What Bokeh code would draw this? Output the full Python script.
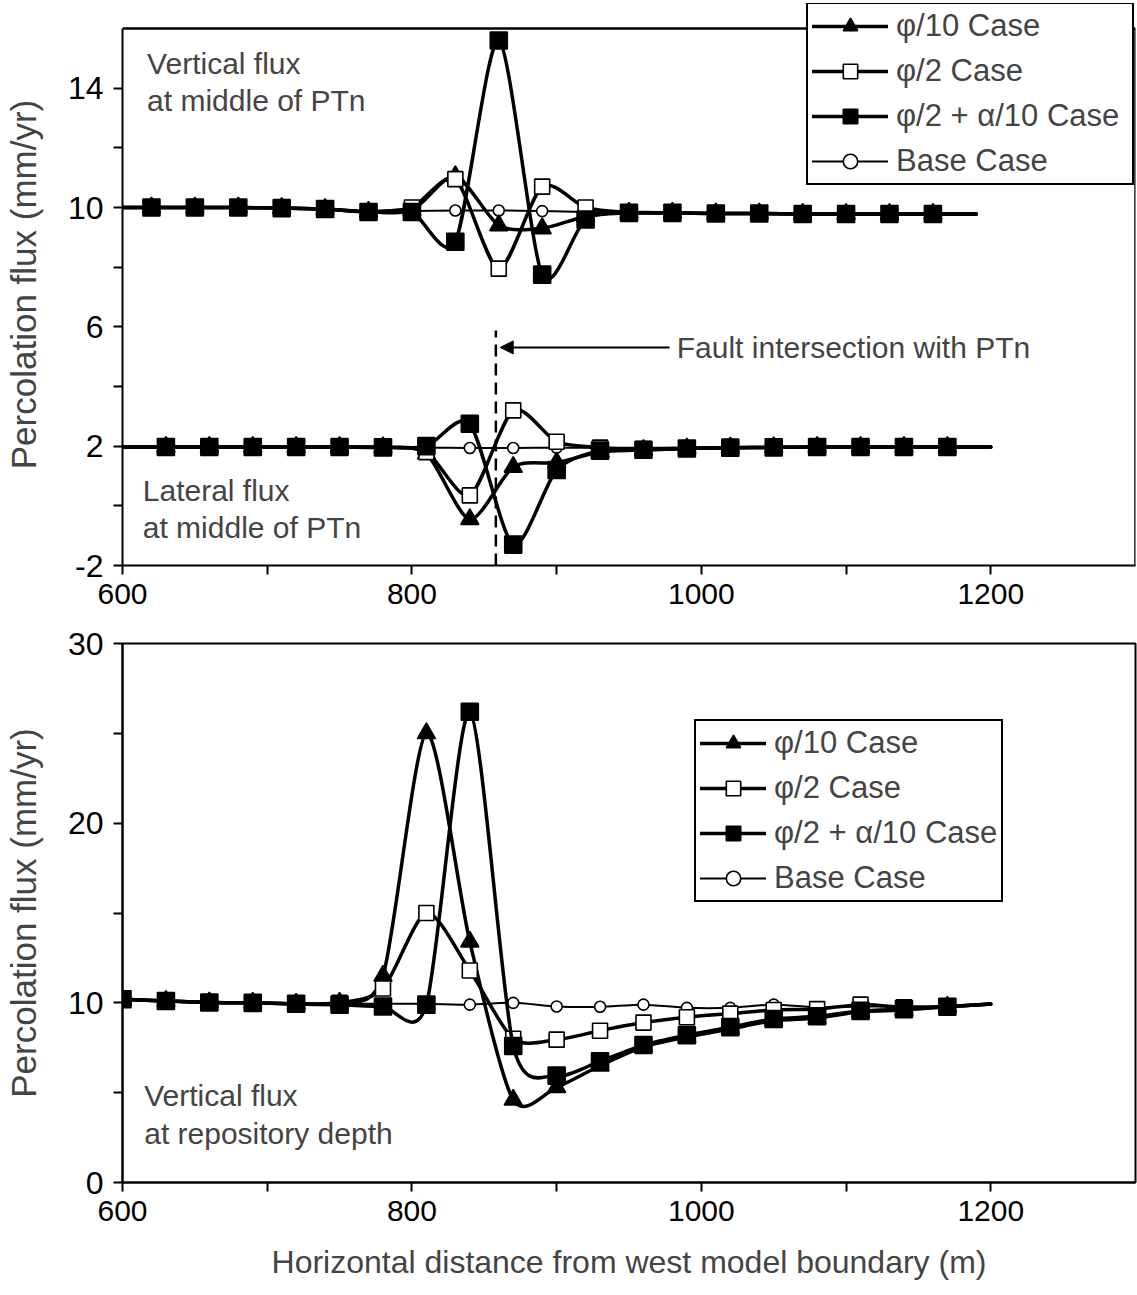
import numpy as np
from bokeh.plotting import figure
from bokeh.layouts import column
from bokeh.models import (Range1d, FixedTicker, Legend, LegendItem, Label, Arrow,
                          NormalHead, ColumnDataSource)
from bokeh.embed import file_html
from bokeh.resources import INLINE

FONT = "Liberation Sans"

# ---------------- data: top panel (middle of PTn) ----------------
x_vert = [600, 620, 650, 680, 710, 740, 770, 800, 830, 860, 890, 920, 950, 980, 1010,
          1040, 1070, 1100, 1130, 1160, 1190]
vert_phi10 = [10.0, 10.0, 10.0, 10.0, 9.98, 9.95, 9.86, 9.9, 11.05, 9.4, 9.3, 9.7, 9.82,
              9.82, 9.8, 9.8, 9.78, 9.78, 9.78, 9.78, 9.78]
vert_phi2 = [10.0, 10.0, 10.0, 10.0, 9.98, 9.95, 9.86, 10.0, 10.95, 7.95, 10.7, 10.0, 9.83,
             9.82, 9.8, 9.8, 9.78, 9.78, 9.78, 9.78, 9.78]
vert_phi2_alpha10 = [10.0, 10.0, 10.0, 10.0, 9.98, 9.95, 9.85, 9.85, 8.85, 15.6, 7.75, 9.6,
                     9.82, 9.82, 9.8, 9.8, 9.78, 9.78, 9.78, 9.78, 9.78]
vert_base = [10.0, 10.0, 10.0, 10.0, 9.98, 9.95, 9.86, 9.88, 9.9, 9.9, 9.88, 9.85, 9.82,
             9.82, 9.8, 9.8, 9.78, 9.78, 9.78, 9.78, 9.78]

x_lat = [600, 630, 660, 690, 720, 750, 780, 810, 840, 870, 900, 930, 960, 990, 1020,
         1050, 1080, 1110, 1140, 1170, 1200]
lat_phi10 = [1.97, 1.97, 1.97, 1.97, 1.97, 1.97, 1.96, 1.75, -0.45, 1.3, 1.45, 1.8, 1.87,
             1.92, 1.95, 1.96, 1.97, 1.97, 1.97, 1.97, 1.97]
lat_phi2 = [1.97, 1.97, 1.97, 1.97, 1.97, 1.97, 1.96, 1.8, 0.35, 3.2, 2.15, 1.95, 1.9,
            1.93, 1.95, 1.96, 1.97, 1.97, 1.97, 1.97, 1.97]
lat_phi2_alpha10 = [1.97, 1.97, 1.97, 1.97, 1.97, 1.97, 1.96, 2.0, 2.75, -1.3, 1.2, 1.85,
                    1.88, 1.92, 1.95, 1.96, 1.97, 1.97, 1.97, 1.97, 1.97]
lat_base = [1.97, 1.97, 1.97, 1.97, 1.97, 1.97, 1.96, 1.95, 1.94, 1.94, 1.95, 1.95, 1.95,
            1.95, 1.96, 1.96, 1.97, 1.97, 1.97, 1.97, 1.97]

# ---------------- data: bottom panel (repository depth) ----------------
x_rep = [600, 630, 660, 690, 720, 750, 780, 810, 840, 870, 900, 930, 960, 990, 1020,
         1050, 1080, 1110, 1140, 1170, 1200]
rep_phi10 = [10.2, 10.1, 10.02, 10.0, 9.95, 10.0, 11.5, 25.0, 13.4, 4.6, 5.3, 6.5, 7.55,
             8.1, 8.55, 9.0, 9.15, 9.5, 9.6, 9.78, 9.93]
rep_phi2 = [10.2, 10.1, 10.02, 10.0, 9.95, 10.0, 10.8, 15.0, 11.8, 8.0, 7.95, 8.45, 8.9,
            9.2, 9.4, 9.6, 9.65, 9.9, 9.75, 9.8, 9.93]
rep_phi2_alpha10 = [10.2, 10.1, 10.02, 10.0, 9.95, 9.9, 9.8, 9.9, 26.2, 7.6, 5.95, 6.75,
                    7.65, 8.2, 8.65, 9.1, 9.25, 9.55, 9.65, 9.78, 9.93]
rep_base = [10.2, 10.1, 10.02, 10.0, 9.95, 9.95, 9.95, 9.95, 9.9, 10.0, 9.8, 9.78, 9.9,
            9.72, 9.72, 9.9, 9.75, 9.8, 9.8, 9.8, 9.93]

case_labels = ["\u03c6/10 Case", "\u03c6/2 Case", "\u03c6/2 + \u03b1/10 Case", "Base Case"]
fault_x = 858

STYLES = [
    dict(marker="triangle", size=18, fill="black", lw=3.5),
    dict(marker="square", size=15, fill="white", lw=3.5),
    dict(marker="square", size=17, fill="black", lw=3.5),
    dict(marker="circle", size=11, fill="white", lw=2),
]
DRAW_ORDER = [3, 0, 1, 2]   # base case underneath, filled squares on top


def bez_source(x, y, t=0.13):
    x = np.asarray(x, float)
    y = np.asarray(y, float)
    n = len(x)
    xp = np.concatenate([[x[0]], x, [x[-1]]])
    yp = np.concatenate([[y[0]], y, [y[-1]]])
    return ColumnDataSource(dict(
        x0=x[:-1], y0=y[:-1], x1=x[1:], y1=y[1:],
        cx0=x[:-1] + (xp[2:n + 1] - xp[0:n - 1]) * t,
        cy0=y[:-1] + (yp[2:n + 1] - yp[0:n - 1]) * t,
        cx1=x[1:] - (xp[3:n + 2] - xp[1:n]) * t,
        cy1=y[1:] - (yp[3:n + 2] - yp[1:n]) * t,
    ))


def draw_series(p, x, y, st, msl):
    b = p.bezier(x0="x0", y0="y0", x1="x1", y1="y1", cx0="cx0", cy0="cy0",
                 cx1="cx1", cy1="cy1", source=bez_source(x, y), line_color="black",
                 line_width=st["lw"], line_cap="round")
    s = p.scatter(x[msl], y[msl], marker=st["marker"], size=st["size"],
                  fill_color=st["fill"], line_color="black", line_width=1.6)
    return [b, s]


def make_fig(h, yr, bt, bb, bl):
    p = figure(width=1137, height=h, x_range=Range1d(600, 1300), y_range=Range1d(*yr),
               output_backend="svg", toolbar_location=None,
               min_border_left=bl, min_border_right=2, min_border_top=bt,
               min_border_bottom=bb)
    p.grid.visible = False
    p.outline_line_color = "black"
    p.outline_line_width = 2
    p.background_fill_color = "white"
    p.border_fill_color = "white"
    for ax in (p.xaxis[0], p.yaxis[0]):
        ax.axis_line_width = 2
        ax.major_tick_line_width = 2
        ax.minor_tick_line_width = 2
        ax.major_tick_out = 9
        ax.major_tick_in = 0
        ax.minor_tick_out = 9
        ax.minor_tick_in = 0
        ax.major_label_text_font = FONT
        ax.axis_label_text_font = FONT
        ax.axis_label_text_font_style = "normal"
        ax.major_label_text_color = "black"
    p.xaxis.major_label_text_font_size = "30px"
    p.yaxis.major_label_text_font_size = "32px"
    p.xaxis.ticker = FixedTicker(ticks=[600, 800, 1000, 1200], minor_ticks=[700, 900, 1100])
    p.xaxis.major_label_standoff = 9
    p.yaxis.major_label_standoff = 10
    p.yaxis.axis_label = "Percolation flux (mm/yr)"
    p.yaxis.axis_label_text_font_size = "35px"
    p.yaxis.axis_label_standoff = 22
    return p


def make_legend(items, loc, gw, lw):
    return Legend(items=items, location=loc, label_text_font=FONT,
                  label_text_font_size="31px", label_height=36, glyph_height=36,
                  glyph_width=gw, label_width=lw, spacing=9, padding=4, margin=0,
                  label_standoff=8, border_line_color="black", border_line_width=2,
                  border_line_alpha=1.0, background_fill_color="white",
                  background_fill_alpha=1.0)


# ---------------- top figure ----------------
# frame starts near the page top so the legend box can rise above the y=16 border
p1 = make_fig(620, (-2, 16 + 25 / 29.83), 3, 55, 122)
p1.outline_line_color = None
p1.yaxis.bounds = (-2, 16)
p1.yaxis.ticker = FixedTicker(ticks=[-2, 2, 6, 10, 14], minor_ticks=[0, 4, 8, 12])
p1.yaxis.major_label_overrides = {-2: "-2"}
# frame border at y = 16 and right side
p1.segment(x0=[600, 1300], y0=[16, -2], x1=[1300, 1300], y1=[16, 16],
           line_color="black", line_width=2.5)

vert_series = [vert_phi10, vert_phi2, vert_phi2_alpha10, vert_base]
lat_series = [lat_phi10, lat_phi2, lat_phi2_alpha10, lat_base]
xv = np.array(x_vert, float)
xl = np.array(x_lat, float)
rend1 = {}
for i in DRAW_ORDER:
    rend1[i] = draw_series(p1, xv, np.array(vert_series[i]), STYLES[i], slice(1, -1))
    draw_series(p1, xl, np.array(lat_series[i]), STYLES[i], slice(1, -1))
items1 = [LegendItem(label=case_labels[i], renderers=rend1[i]) for i in range(4)]

p1.segment(x0=[fault_x], y0=[-2], x1=[fault_x], y1=[5.88], line_color="black",
           line_width=2.5, line_dash="12 7")
p1.add_layout(Arrow(end=NormalHead(size=13, fill_color="black", line_color="black"),
                    x_start=978, y_start=5.31, x_end=861, y_end=5.31,
                    line_color="black", line_width=2))
p1.add_layout(Label(x=983, y=5.31, text="Fault intersection with PTn", text_font=FONT,
                    text_font_size="30px", text_baseline="middle"))
for tx, ty, tt in [(617, 14.83, "Vertical flux"), (617, 13.59, "at middle of PTn"),
                   (614, 0.51, "Lateral flux"), (614, -0.73, "at middle of PTn")]:
    p1.add_layout(Label(x=tx, y=ty, text=tt, text_font=FONT, text_font_size="30px",
                        text_baseline="middle"))
p1.add_layout(make_legend(items1, (684, 380), 76, 232))

# ---------------- bottom figure ----------------
p2 = make_fig(675, (0, 30), 23, 113, 118)
p2.yaxis.ticker = FixedTicker(ticks=[0, 10, 20, 30], minor_ticks=[5, 15, 25])
p2.xaxis.axis_label = "Horizontal distance from west model boundary (m)"
p2.xaxis.axis_label_text_font_size = "32px"
p2.xaxis.axis_label_standoff = 20

rep_series = [rep_phi10, rep_phi2, rep_phi2_alpha10, rep_base]
xr_ = np.array(x_rep, float)
rend2 = {}
for i in DRAW_ORDER:
    rend2[i] = draw_series(p2, xr_, np.array(rep_series[i]), STYLES[i], slice(0, -1))
items2 = [LegendItem(label=case_labels[i], renderers=rend2[i]) for i in range(4)]

for tx, ty, tt in [(615, 4.83, "Vertical flux"), (615, 2.7, "at repository depth")]:
    p2.add_layout(Label(x=tx, y=ty, text=tt, text_font=FONT, text_font_size="30px",
                        text_baseline="middle"))
p2.add_layout(make_legend(items2, (572, 280), 66, 209))

layout = column(p1, p2, spacing=0)
open("out.html", "w").write(file_html(layout, INLINE))
